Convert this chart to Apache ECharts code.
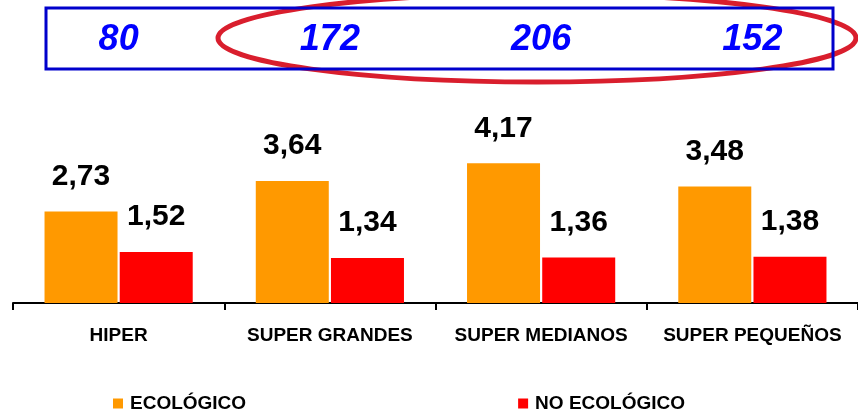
<!DOCTYPE html>
<html>
<head>
<meta charset="utf-8">
<script src="https://cdn.jsdelivr.net/npm/echarts@6/dist/echarts.min.js"></script>
<style>
html,body{margin:0;padding:0;background:#fff;}
#c{width:858px;height:411px;}
</style>
</head>
<body>
<div id="c"></div>
<script>
const categories = ['HIPER', 'SUPER GRANDES', 'SUPER MEDIANOS', 'SUPER PEQUEÑOS'];
const counts = ['80', '172', '206', '152'];
const ecologico = [2.73, 3.64, 4.17, 3.48];
const noEcologico = [1.52, 1.34, 1.36, 1.38];
const seriesNames = ['ECOLÓGICO', 'NO ECOLÓGICO'];

const FONT = '"Liberation Sans", Arial, sans-serif';
const fmt = p => p.value.toFixed(2).replace('.', ',');

const chart = echarts.init(document.getElementById('c'), null, {renderer: 'canvas'});
chart.setOption({
  animation: false,
  backgroundColor: '#ffffff',
  textStyle: {fontFamily: FONT},
  grid: {left: 13, right: -7, top: 102, bottom: 108, containLabel: false},
  legend: {
    data: seriesNames,
    left: 108, top: 389,
    icon: 'rect', itemWidth: 10, itemHeight: 10, itemGap: 272,
    textStyle: {fontFamily: FONT, fontSize: 19, fontWeight: 'bold', color: '#000', padding: [0, 0, 0, 2]}
  },
  xAxis: [
    {
      type: 'category', data: categories, position: 'bottom',
      axisLine: {lineStyle: {color: '#000', width: 2}},
      axisTick: {show: true, length: 7, lineStyle: {color: '#000', width: 2}},
      axisLabel: {fontFamily: FONT, fontSize: 19, fontWeight: 'bold', color: '#000', margin: 23, interval: 0}
    },
    {
      type: 'category', data: counts, position: 'top',
      axisLine: {show: false}, axisTick: {show: false},
      axisLabel: {fontFamily: FONT, fontSize: 36, fontWeight: 'bold', fontStyle: 'italic', color: '#0000FF', margin: 44, interval: 0}
    }
  ],
  yAxis: {type: 'value', min: 0, max: 6, show: false, splitLine: {show: false}},
  series: [
    {
      name: seriesNames[0], type: 'bar', data: ecologico, xAxisIndex: 0,
      barWidth: 73, barGap: '3%',
      itemStyle: {color: '#FF9900'},
      label: {show: true, position: 'top', distance: 20, formatter: fmt,
        fontFamily: FONT, fontSize: 30, fontWeight: 'bold', color: '#000'}
    },
    {
      name: seriesNames[1], type: 'bar', data: noEcologico, xAxisIndex: 0,
      barWidth: 73, barGap: '3%',
      itemStyle: {color: '#FF0000'},
      label: {show: true, position: 'top', distance: 20, formatter: fmt,
        fontFamily: FONT, fontSize: 30, fontWeight: 'bold', color: '#000'}
    }
  ],
  graphic: [
    {type: 'ellipse', shape: {cx: 537, cy: 38, rx: 319, ry: 44}, z: 5,
      style: {fill: 'none', stroke: '#D91E2D', lineWidth: 5}},
    {type: 'rect', shape: {x: 46, y: 8, width: 787, height: 61}, z: 6,
      style: {fill: 'none', stroke: '#0000CC', lineWidth: 3}}
  ]
});
</script>
</body>
</html>
